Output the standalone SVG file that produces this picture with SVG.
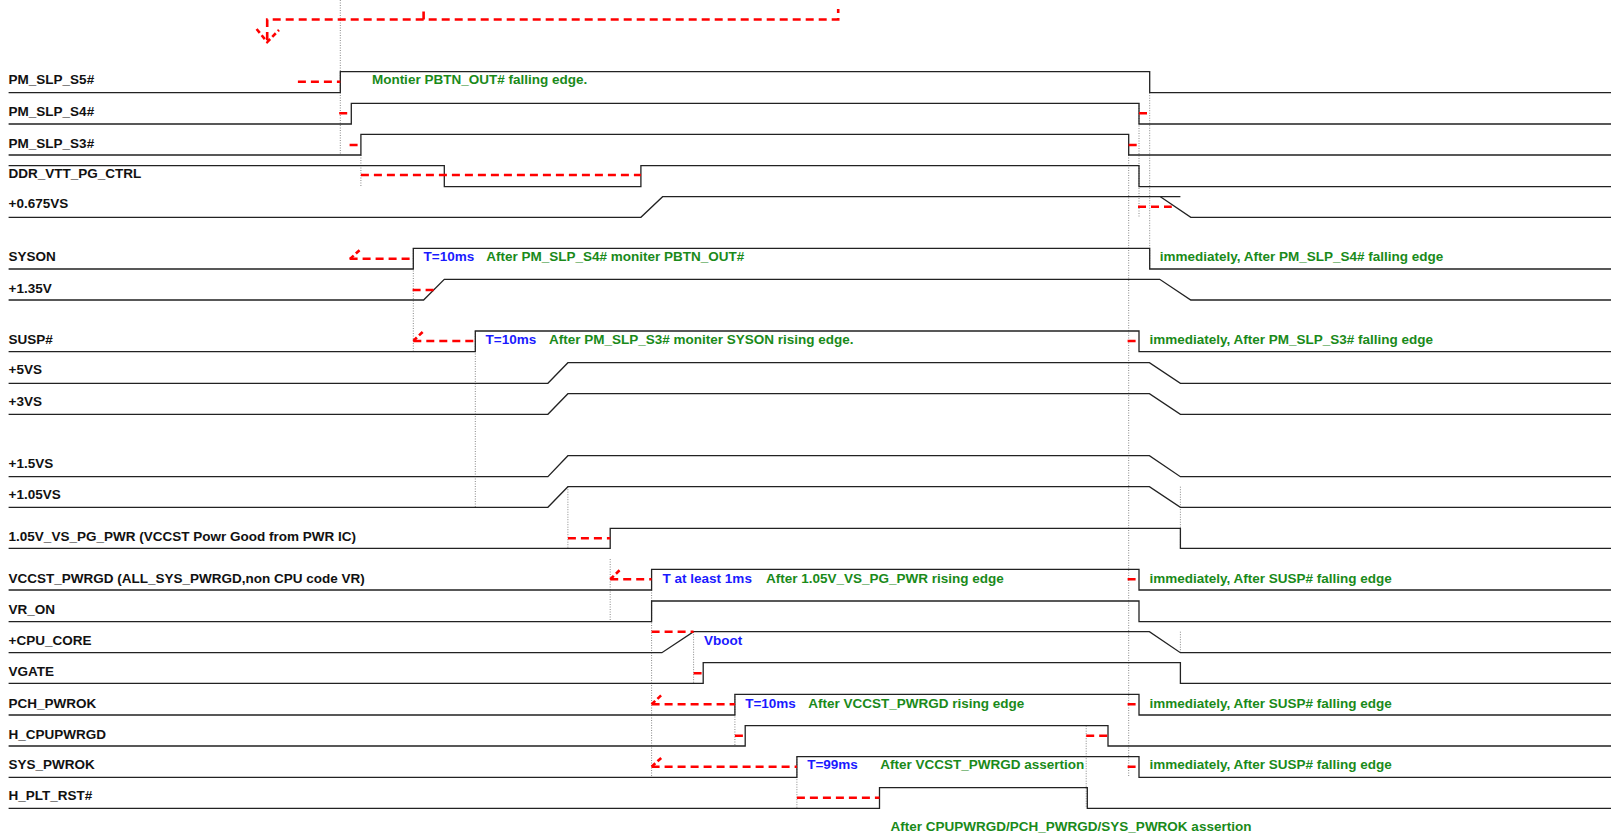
<svg xmlns="http://www.w3.org/2000/svg" width="1611" height="834" viewBox="0 0 1611 834">
<style>
text{font-family:"Liberation Sans",Arial,sans-serif;font-size:13.5px;font-weight:bold}
.lbl{fill:#111}
.g{fill:#1a8a1a}
.b{fill:#1a1aff}
.sig{fill:none;stroke:#222;stroke-width:1.3}
.dot{fill:none;stroke:#888;stroke-width:1;stroke-dasharray:1,1.5}
.red{fill:none;stroke:#ff0000;stroke-width:2.6;stroke-dasharray:8,5}
.tick{fill:none;stroke:#ff0000;stroke-width:2.6;stroke-dasharray:5,3}
</style>
<rect width="1611" height="834" fill="#fff"/>
<g id="guides">
<path class="dot" d="M340.3,0V155M360.9,155V187M413.3,248V351.7M475.3,331V507.3M567.9,486.7V548.3M610.2,559V621.7M651.6,590V777.3M693.6,631.7V683.3M734.9,694V746M796.9,756.7V808.3M1086.2,725.7V808.3M1128.7,155V777.3M1139,103V217M1149.7,92.7V269M1180.4,486.7V548.3M1180.4,631.7V652.7"/>
</g>
<g id="top-arrow">
<path class="red" d="M267.2,40V19.5H838.2V9M423.6,19.5V9"/>
<path class="tick" d="M256.6,29L267.2,42L279,30"/>
</g>
<g id="PM_SLP_S5">
<text class="lbl" x="8.6" y="84">PM_SLP_S5#</text>
<polyline class="sig" points="8.6,92.7 340.3,92.7 340.3,71.7 1149.7,71.7 1149.7,92.7 1611,92.7"/>
<text class="g" x="371.9" y="84">Montier PBTN_OUT# falling edge.</text>
</g>
<g id="PM_SLP_S4">
<text class="lbl" x="8.6" y="116">PM_SLP_S4#</text>
<polyline class="sig" points="8.6,124 351.3,124 351.3,103.3 1139,103.3 1139,124 1611,124"/>
</g>
<g id="PM_SLP_S3">
<text class="lbl" x="8.6" y="147.7">PM_SLP_S3#</text>
<polyline class="sig" points="8.6,155 360.9,155 360.9,134.3 1128.7,134.3 1128.7,155 1611,155"/>
</g>
<g id="DDR_VTT_PG_CTRL">
<text class="lbl" x="8.6" y="177.7">DDR_VTT_PG_CTRL</text>
<polyline class="sig" points="8.6,165.7 444.3,165.7 444.3,186.7 640.9,186.7 640.9,165.7 1139,165.7 1139,186.7 1611,186.7"/>
</g>
<g id="V0675VS">
<text class="lbl" x="8.6" y="207.7">+0.675VS</text>
<polyline class="sig" points="8.6,217.3 640.9,217.3 662.6,196.7 1180.4,196.7"/>
<polyline class="sig" points="1160.4,196.7 1190.8,217.3 1611,217.3"/>
</g>
<g id="SYSON">
<text class="lbl" x="8.6" y="261">SYSON</text>
<polyline class="sig" points="8.6,269 413.3,269 413.3,248.3 1149.7,248.3 1149.7,269 1611,269"/>
<text class="b" x="423.6" y="261">T=10ms</text>
<text class="g" x="486.3" y="261">After PM_SLP_S4# moniter PBTN_OUT#</text>
<text class="g" x="1159.7" y="261">immediately, After PM_SLP_S4# falling edge</text>
</g>
<g id="V135">
<text class="lbl" x="8.6" y="292.7">+1.35V</text>
<polyline class="sig" points="8.6,300 423.6,300 444.3,279.3 1159.7,279.3 1190.8,300 1611,300"/>
</g>
<g id="SUSP">
<text class="lbl" x="8.6" y="344.3">SUSP#</text>
<polyline class="sig" points="8.6,351.7 475.3,351.7 475.3,331 1139,331 1139,351.7 1611,351.7"/>
<text class="b" x="485.6" y="344.3">T=10ms</text>
<text class="g" x="548.9" y="344.3">After PM_SLP_S3# moniter SYSON rising edge.</text>
<text class="g" x="1149.4" y="344.3">immediately, After PM_SLP_S3# falling edge</text>
</g>
<g id="V5VS">
<text class="lbl" x="8.6" y="374.3">+5VS</text>
<polyline class="sig" points="8.6,383.3 547.9,383.3 567.9,362.7 1149.4,362.7 1180.4,383.3 1611,383.3"/>
</g>
<g id="V3VS">
<text class="lbl" x="8.6" y="406">+3VS</text>
<polyline class="sig" points="8.6,414.3 547.9,414.3 567.9,393.7 1149.4,393.7 1180.4,414.3 1611,414.3"/>
</g>
<g id="V15VS">
<text class="lbl" x="8.6" y="467.7">+1.5VS</text>
<polyline class="sig" points="8.6,476.7 547.9,476.7 567.9,455.7 1149.4,455.7 1180.4,476.7 1611,476.7"/>
</g>
<g id="V105VS">
<text class="lbl" x="8.6" y="498.7">+1.05VS</text>
<polyline class="sig" points="8.6,507.3 547.9,507.3 567.9,486.7 1149.4,486.7 1180.4,507.3 1611,507.3"/>
</g>
<g id="VS_PG_PWR">
<text class="lbl" x="8.6" y="541">1.05V_VS_PG_PWR (VCCST Powr Good from PWR IC)</text>
<polyline class="sig" points="8.6,548.3 610.2,548.3 610.2,528.3 1180.4,528.3 1180.4,548.3 1611,548.3"/>
</g>
<g id="VCCST_PWRGD">
<text class="lbl" x="8.6" y="583.3">VCCST_PWRGD (ALL_SYS_PWRGD,non CPU code VR)</text>
<polyline class="sig" points="8.6,590 651.6,590 651.6,569.3 1139,569.3 1139,590 1611,590"/>
<text class="b" x="662.6" y="583.3">T at least 1ms</text>
<text class="g" x="765.9" y="583.3">After 1.05V_VS_PG_PWR rising edge</text>
<text class="g" x="1149.4" y="583.3">immediately, After SUSP# falling edge</text>
</g>
<g id="VR_ON">
<text class="lbl" x="8.6" y="614.3">VR_ON</text>
<polyline class="sig" points="8.6,621.7 651.6,621.7 651.6,601 1139,601 1139,621.7 1611,621.7"/>
</g>
<g id="CPU_CORE">
<text class="lbl" x="8.6" y="645.3">+CPU_CORE</text>
<polyline class="sig" points="8.6,652.7 661.9,652.7 693.6,631.7 1149.4,631.7 1180.4,652.7 1611,652.7"/>
<text class="b" x="703.9" y="645.3">Vboot</text>
</g>
<g id="VGATE">
<text class="lbl" x="8.6" y="676">VGATE</text>
<polyline class="sig" points="8.6,683.3 703.2,683.3 703.2,662.7 1180.4,662.7 1180.4,683.3 1611,683.3"/>
</g>
<g id="PCH_PWROK">
<text class="lbl" x="8.6" y="707.7">PCH_PWROK</text>
<polyline class="sig" points="8.6,715 734.9,715 734.9,694.3 1139,694.3 1139,715 1611,715"/>
<text class="b" x="745.2" y="707.7">T=10ms</text>
<text class="g" x="808.3" y="707.7">After VCCST_PWRGD rising edge</text>
<text class="g" x="1149.4" y="707.7">immediately, After SUSP# falling edge</text>
</g>
<g id="H_CPUPWRGD">
<text class="lbl" x="8.6" y="738.7">H_CPUPWRGD</text>
<polyline class="sig" points="8.6,746 745.2,746 745.2,725.7 1108,725.7 1108,746 1611,746"/>
</g>
<g id="SYS_PWROK">
<text class="lbl" x="8.6" y="769.3">SYS_PWROK</text>
<polyline class="sig" points="8.6,777.3 796.9,777.3 796.9,756.7 1139,756.7 1139,777.3 1611,777.3"/>
<text class="b" x="807.2" y="769.3">T=99ms</text>
<text class="g" x="880.2" y="769.3">After VCCST_PWRGD assertion</text>
<text class="g" x="1149.4" y="769.3">immediately, After SUSP# falling edge</text>
</g>
<g id="H_PLT_RST">
<text class="lbl" x="8.6" y="800.3">H_PLT_RST#</text>
<polyline class="sig" points="8.6,808.3 879.5,808.3 879.5,787.7 1087.3,787.7 1087.3,808.3 1611,808.3"/>
<text class="g" x="890.6" y="830.5">After CPUPWRGD/PCH_PWRGD/SYS_PWROK assertion</text>
</g>
<g id="connectors">
<path class="red" d="M297.9,81.7H340.3M339.2,113.3H351.3M1139,113.3H1150.4M349.6,145H360.9M1128.7,145H1140M360.9,175H640.9M1138,206.7H1171.8M349.6,258.7H413.3M412.6,290H434.6M413.3,341H475.3M1127.6,341H1139M567.9,538.3H610.2M610.2,579.3H651.6M1127.6,579.3H1139M651.6,631.7H693.6M693.6,673.3H703.2M651.6,704.3H734.9M1127.6,704.3H1139M734.9,735.7H745.2M1086.2,735.7H1108M651.6,766.7H796.9M1127.6,766.7H1139M796.9,797.7H879.5"/>
<path class="tick" d="M350,259L361.6,248.3M413.3,341L423.6,331M610.2,579.3L620.6,569.3M651.6,704.3L662.6,694M651.6,766.7L662.6,756.7"/>
</g>
</svg>
